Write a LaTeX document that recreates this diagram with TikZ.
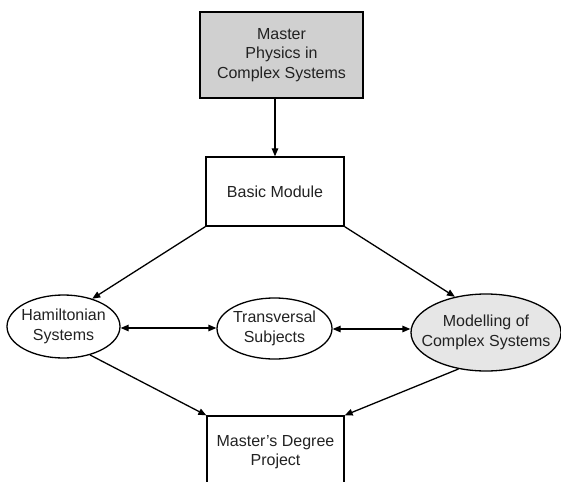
\documentclass[tikz,border=0pt]{standalone}
\usepackage{fontspec}
\setmainfont{Liberation Sans}
\usetikzlibrary{shapes.geometric,arrows.meta}
\definecolor{txt}{HTML}{222222}
\definecolor{topfill}{HTML}{D0D0D0}
\definecolor{modfill}{HTML}{E6E6E6}
\begin{document}
\begin{tikzpicture}[x=1pt,y=-1pt,
  every node/.style={font=\fontsize{16}{19.5}\selectfont, text=txt, align=center},
  boxnode/.style={draw=black, line width=1.3pt, rectangle, inner sep=0pt},
  ellnode/.style={draw=black, line width=1.3pt, ellipse, inner sep=0pt},
  tip/.style={-{Triangle[length=8pt,width=6.5pt]}},
  bitip/.style={{Triangle[length=8pt,width=6.5pt]}-{Triangle[length=8pt,width=6.5pt]}},
  conn/.style={line width=1.3pt, draw=black}]
\useasboundingbox (0,0) rectangle (561,481);
\clip (0,0) rectangle (561,481);
\node[boxnode, fill=topfill, minimum width=163pt, minimum height=86pt] (top) at (281.5,55) {Master\\Physics in\\Complex Systems};
\node[boxnode, minimum width=138pt, minimum height=69pt] (basic) at (275,191.5) {Basic Module};
\node[ellnode, minimum width=113pt, minimum height=63pt,
  label={[align=center]center:Hamiltonian\\Systems}] (ham) at (63.5,326.5) {};
\node[ellnode, minimum width=115pt, minimum height=61pt,
  label={[align=center]center:Transversal\\Subjects}] (trans) at (274.5,328.5) {};
\node[ellnode, fill=modfill, minimum width=150pt, minimum height=77pt,
  label={[align=center]center:Modelling of\\Complex Systems}] (model) at (486,332.5) {};
\node[boxnode, minimum width=137pt, minimum height=72pt] (proj) at (275.5,452) {Master's Degree\\Project};
\draw[conn, tip] (basic.north |- top.south) -- (basic.north);
\draw[conn, tip] (basic.south west) -- (ham.44);
\draw[conn, tip] (basic.south east) -- (model.131);
\draw[conn, bitip] (ham.east |- 0,328) -- (trans.west |- 0,328);
\draw[conn, bitip] (trans.east |- 0,329) -- (model.west |- 0,329);
\draw[conn, tip] (ham.-47) -- (proj.north west);
\draw[conn, tip] (model.-127) -- (proj.north east);
\end{tikzpicture}
\end{document}
